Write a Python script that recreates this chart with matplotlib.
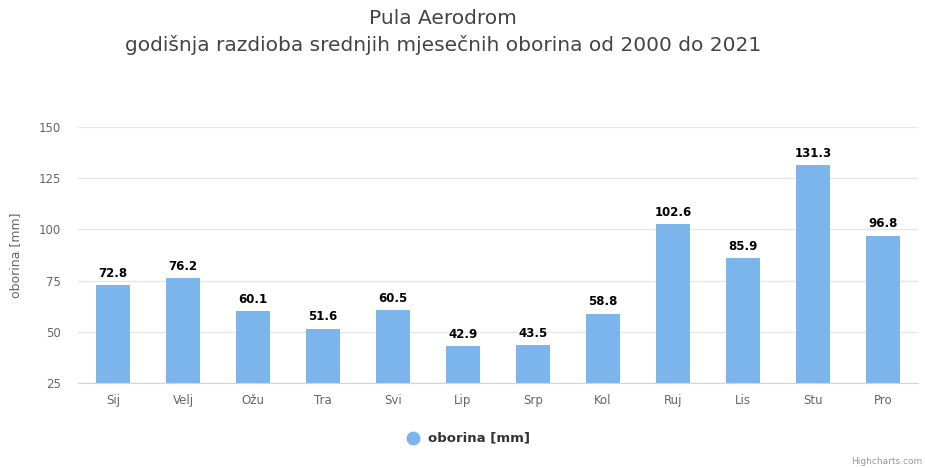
import matplotlib.pyplot as plt

months = ["Sij", "Velj", "Ožu", "Tra", "Svi", "Lip", "Srp", "Kol", "Ruj", "Lis", "Stu", "Pro"]
oborina = [72.8, 76.2, 60.1, 51.6, 60.5, 42.9, 43.5, 58.8, 102.6, 85.9, 131.3, 96.8]
y_ticks = [25, 50, 75, 100, 125, 150]

plt.rcParams['font.family'] = ['DejaVu Sans']

fig = plt.figure(figsize=(9.25, 4.68), dpi=100)
ax = fig.add_axes([78 / 925, 1 - 383 / 468, 840 / 925, 256 / 468])

x = range(len(months))
bars = ax.bar(x, oborina, width=0.49, bottom=0, color='#7cb5ec', zorder=2)
ax.set_ylim(25, 150)
ax.set_xlim(-0.5, len(months) - 0.5)

# data labels
for xi, v in zip(x, oborina):
    ax.annotate(f"{v:.1f}", (xi, v), xytext=(0, 4), textcoords='offset points',
                ha='center', va='bottom', fontsize=8.5, fontweight='bold', color='#000000')

ax.set_yticks(y_ticks)
ax.set_yticklabels([str(t) for t in y_ticks], color='#666666', fontsize=8.5)
ax.set_xticks(list(x))
ax.set_xticklabels(months, color='#666666', fontsize=8.5)
ax.tick_params(axis='x', length=0, pad=8)
ax.tick_params(axis='y', length=0, pad=12)
ax.grid(axis='y', color='#e6e6e6', linewidth=1, zorder=0)
for s in ['top', 'right', 'left']:
    ax.spines[s].set_visible(False)
ax.spines['bottom'].set_color('#ccd6eb')
ax.set_ylabel("oborina [mm]", color='#666666', fontsize=9, labelpad=12)

fig.text(443 / 925, 1 - 18 / 468, "Pula Aerodrom", ha='center', va='center',
         fontsize=14.5, color='#444444')
fig.text(443 / 925, 1 - 45 / 468, "godišnja razdioba srednjih mjesečnih oborina od 2000 do 2021",
         ha='center', va='center', fontsize=14.5, color='#444444')

# legend
fig.lines.append(plt.Line2D([413 / 925], [1 - 438 / 468], marker='o', markersize=9,
                            color='#7cb5ec', linestyle='none', transform=fig.transFigure))
fig.text(428 / 925, 1 - 438 / 468, "oborina [mm]", ha='left', va='center',
         fontsize=9.5, fontweight='bold', color='#333333')

fig.text(922 / 925, 1 - 462 / 468, "Highcharts.com", ha='right', va='center',
         fontsize=6.5, color='#999999')

fig.savefig("out.png", dpi=100)
